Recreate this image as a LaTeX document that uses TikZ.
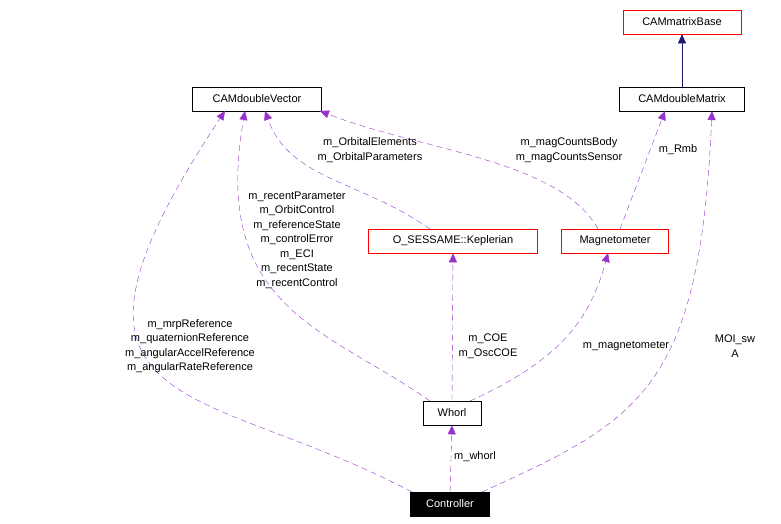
\documentclass[tikz,border=0pt]{standalone}
\usepackage{fontspec}
\setmainfont{Liberation Sans}
\usetikzlibrary{arrows.meta}
\definecolor{ep}{HTML}{9A32CD}
\definecolor{nv}{HTML}{191970}
\begin{document}
\begin{tikzpicture}[x=1pt,y=-1pt,font=\fontsize{11}{14.5}\selectfont,
 box/.style={draw=black,fill=white,minimum height=24pt,inner xsep=4pt,line width=0.6pt},
 red/.style={box,draw=red},
 dep/.style={draw=ep,dashed,dash pattern=on 6pt off 4pt,-{Triangle[fill=ep,length=9pt,width=8pt]}},
 lab/.style={align=center,inner sep=0pt}]
\useasboundingbox[fill=white] (0,0) rectangle (781,524);
\node[red,minimum width=118pt] (base) at (682,22) {CAMmatrixBase};
\node[box,minimum width=129pt] (vec) at (257,99) {CAMdoubleVector};
\node[box,minimum width=125pt] (mat) at (682,99) {CAMdoubleMatrix};
\node[red,minimum width=169pt] (kep) at (453,241) {O\_SESSAME::Keplerian};
\node[red,minimum width=107pt] (mag) at (615,241) {Magnetometer};
\node[box,minimum width=58pt] (wh) at (452,413) {Whorl};
\node[box,fill=black,text=white,minimum width=79pt] (ct) at (450,504) {Controller};
\draw[draw=nv,-{Triangle[fill=nv,length=9pt,width=8pt]}] (mat) -- (base);
\coordinate (c1) at (412,492);
\draw[dep] (c1) .. controls (200,380) and (20,420) .. (225,111);
\coordinate (w1) at (430,401);
\draw[dep] (w1) .. controls (330,330) and (210,310) .. (245,111);
\coordinate (k1) at (430,229);
\draw[dep] (k1) .. controls (360,180) and (290,180) .. (265,111);
\coordinate (m1) at (598,229);
\draw[dep] (m1) .. controls (560,160) and (420,150) .. (320,111);
\coordinate (m2) at (620,229);
\draw[dep] (m2) -- (665,111);
\coordinate (c2) at (482,492);
\draw[dep] (c2) .. controls (640,420) and (700,390) .. (712,111);
\draw[dep] (wh.north) -- (kep.south);
\coordinate (w2) at (470,401);
\draw[dep] (w2) .. controls (560,360) and (590,320) .. (608,253);
\draw[dep] (ct.north) -- (wh.south);
\node[lab] at (190,346) {m\_mrpReference\\m\_quaternionReference\\m\_angularAccelReference\\m\_angularRateReference};
\node[lab] at (297,240) {m\_recentParameter\\m\_OrbitControl\\m\_referenceState\\m\_controlError\\m\_ECI\\m\_recentState\\m\_recentControl};
\node[lab] at (370,150) {m\_OrbitalElements\\m\_OrbitalParameters};
\node[lab] at (569,150) {m\_magCountsBody\\m\_magCountsSensor};
\node[lab] at (678,150) {m\_Rmb};
\node[lab] at (735,346) {MOI\_sw\\A};
\node[lab] at (488,346) {m\_COE\\m\_OscCOE};
\node[lab] at (626,346) {m\_magnetometer};
\node[lab] at (475,457) {m\_whorl};
\end{tikzpicture}
\end{document}
